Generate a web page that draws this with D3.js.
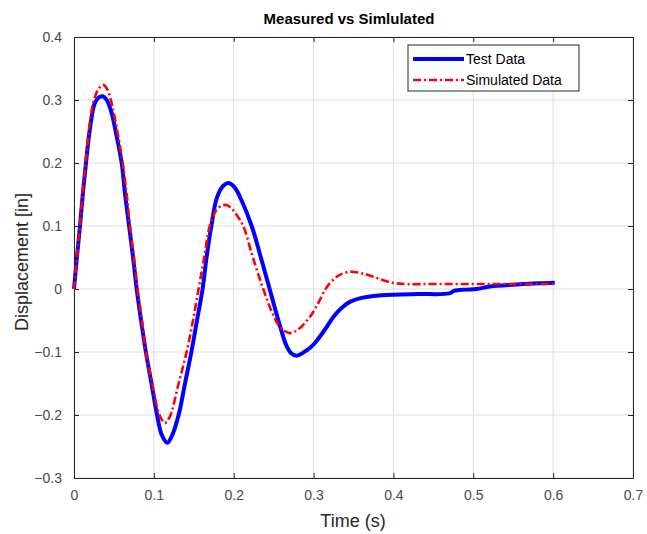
<!DOCTYPE html>
<html>
<head>
<meta charset="utf-8">
<script src="https://cdn.jsdelivr.net/npm/d3@7"></script>
<style>
  html, body { margin: 0; padding: 0; background: #fff; }
  svg { display: block; font-family: "Liberation Sans", Arial, Helvetica, sans-serif; }
</style>
</head>
<body>
<svg id="chart" width="647" height="534"></svg>
<script>
// Measured displacement response (test rig)
const testTime = [0, 0.004, 0.0075, 0.011, 0.015, 0.020, 0.026, 0.031, 0.036, 0.041, 0.047, 0.053, 0.0597, 0.064, 0.069, 0.074, 0.0785, 0.084, 0.090, 0.097, 0.104, 0.110, 0.117, 0.123, 0.131, 0.139, 0.147, 0.154, 0.161, 0.166, 0.172, 0.179, 0.187, 0.1945, 0.202, 0.210, 0.2225, 0.234, 0.245, 0.256, 0.266, 0.272, 0.279, 0.287, 0.296, 0.304, 0.315, 0.325, 0.335, 0.346, 0.360, 0.375, 0.400, 0.430, 0.470, 0.476, 0.490, 0.504, 0.521, 0.554, 0.580, 0.602];
const testDisp = [0, 0.055, 0.10, 0.15, 0.20, 0.255, 0.295, 0.304, 0.306, 0.300, 0.280, 0.245, 0.20, 0.15, 0.10, 0.05, 0.0, -0.05, -0.10, -0.15, -0.20, -0.232, -0.244, -0.232, -0.20, -0.15, -0.10, -0.05, 0.0, 0.05, 0.10, 0.145, 0.164, 0.168, 0.160, 0.140, 0.10, 0.05, 0.0, -0.05, -0.09, -0.102, -0.106, -0.101, -0.093, -0.082, -0.063, -0.044, -0.030, -0.020, -0.014, -0.011, -0.009, -0.008, -0.007, -0.003, -0.001, 0.0, 0.004, 0.007, 0.009, 0.010];

// Simulated displacement response (model)
const simTime = [0, 0.004, 0.0075, 0.011, 0.0146, 0.020, 0.025, 0.031, 0.0367, 0.042, 0.048, 0.055, 0.061, 0.066, 0.070, 0.075, 0.0795, 0.085, 0.090, 0.098, 0.107, 0.114, 0.118, 0.121, 0.131, 0.141, 0.149, 0.156, 0.163, 0.170, 0.178, 0.185, 0.191, 0.198, 0.205, 0.212, 0.224, 0.237, 0.249, 0.259, 0.2705, 0.280, 0.2955, 0.306, 0.316, 0.329, 0.340, 0.348, 0.360, 0.375, 0.396, 0.417, 0.450, 0.500, 0.550, 0.600];
const simDisp = [0, 0.055, 0.10, 0.155, 0.20, 0.265, 0.300, 0.318, 0.324, 0.316, 0.290, 0.245, 0.20, 0.15, 0.10, 0.05, 0.0, -0.05, -0.10, -0.15, -0.20, -0.213, -0.207, -0.20, -0.15, -0.10, -0.05, 0.0, 0.05, 0.10, 0.125, 0.132, 0.1333, 0.127, 0.115, 0.10, 0.05, 0.0, -0.04, -0.062, -0.070, -0.065, -0.044, -0.022, 0.002, 0.0195, 0.026, 0.0275, 0.025, 0.0195, 0.0106, 0.0078, 0.008, 0.008, 0.008, 0.008];

const xTicks = [0, 0.1, 0.2, 0.3, 0.4, 0.5, 0.6, 0.7];
const yTicks = [-0.3, -0.2, -0.1, 0, 0.1, 0.2, 0.3, 0.4];
const seriesNames = ["Test Data", "Simulated Data"];

const svg = d3.select("#chart");
const plotLeft = 74, plotRight = 633, plotTop = 37, plotBottom = 478;

const x = d3.scaleLinear().domain([0, 0.7]).range([plotLeft, plotRight]);
const y = d3.scaleLinear().domain([-0.3, 0.4]).range([plotBottom, plotTop]);

const axisColor = "#262626";
const labelColor = "#4a4a4a";
const fmt = d => (d === 0 ? "0" : d3.format(".1f")(d));

// grid
const grid = svg.append("g");
grid.selectAll("line.gx").data(xTicks).join("line").attr("class", "gx")
  .attr("x1", d => x(d)).attr("x2", d => x(d))
  .attr("y1", plotTop).attr("y2", plotBottom)
  .attr("stroke", "#dfdfdf").attr("stroke-width", 1);
grid.selectAll("line.gy").data(yTicks).join("line").attr("class", "gy")
  .attr("x1", plotLeft).attr("x2", plotRight)
  .attr("y1", d => y(d)).attr("y2", d => y(d))
  .attr("stroke", "#dfdfdf").attr("stroke-width", 1);

// axes with inward ticks
const xAxis = svg.append("g").attr("transform", `translate(0,${plotBottom})`)
  .call(d3.axisBottom(x).tickValues(xTicks).tickFormat(fmt).tickSizeInner(-5).tickSizeOuter(0).tickPadding(12));
const xAxisTop = svg.append("g").attr("transform", `translate(0,${plotTop})`)
  .call(d3.axisTop(x).tickValues(xTicks).tickFormat("").tickSizeInner(-5).tickSizeOuter(0));
const yAxis = svg.append("g").attr("transform", `translate(${plotLeft},0)`)
  .call(d3.axisLeft(y).tickValues(yTicks).tickFormat(fmt).tickSizeInner(-5).tickSizeOuter(0).tickPadding(12));
const yAxisRight = svg.append("g").attr("transform", `translate(${plotRight},0)`)
  .call(d3.axisRight(y).tickValues(yTicks).tickFormat("").tickSizeInner(-5).tickSizeOuter(0));

[xAxis, xAxisTop, yAxis, yAxisRight].forEach(g => {
  g.select(".domain").attr("stroke", axisColor).attr("stroke-width", 1);
  g.selectAll(".tick line").attr("stroke", axisColor);
  g.selectAll("text").attr("fill", labelColor).style("font-size", "14px")
    .style("font-family", "'Liberation Sans', Arial, sans-serif");
});

// data lines
const line = d3.line().x(d => x(d[0])).y(d => y(d[1])).curve(d3.curveCatmullRom.alpha(0.5));
const testPts = testTime.map((t, i) => [t, testDisp[i]]);
const simPts = simTime.map((t, i) => [t, simDisp[i]]);

svg.append("path").datum(testPts).attr("d", line)
  .attr("fill", "none").attr("stroke", "#0000ff").attr("stroke-width", 4)
  .attr("stroke-linejoin", "round");
svg.append("path").datum(simPts).attr("d", line)
  .attr("fill", "none").attr("stroke", "#ff0000").attr("stroke-width", 2.6)
  .attr("stroke-dasharray", "8,3,2,3");

// title and axis labels
svg.append("text").attr("x", 349).attr("y", 24).attr("text-anchor", "middle")
  .attr("font-weight", "bold").attr("font-size", 15).attr("fill", "#000")
  .text("Measured vs Simlulated");
svg.append("text").attr("x", 353).attr("y", 527).attr("text-anchor", "middle")
  .attr("font-size", 18).attr("fill", "#262626").text("Time (s)");
svg.append("text").attr("transform", `translate(28,262) rotate(-90)`)
  .attr("text-anchor", "middle").attr("font-size", 18).attr("fill", "#262626")
  .text("Displacement [in]");

// legend
const lg = svg.append("g");
lg.append("rect").attr("x", 408).attr("y", 45).attr("width", 171).attr("height", 46)
  .attr("fill", "#fff").attr("stroke", axisColor).attr("stroke-width", 1);
const legendStyles = [
  { color: "#0000ff", width: 4, dash: null },
  { color: "#ff0000", width: 2.6, dash: "8,3,2,3" }
];
seriesNames.forEach((name, i) => {
  const yy = 59 + i * 21;
  const s = legendStyles[i];
  lg.append("line").attr("x1", 413).attr("x2", 464).attr("y1", yy).attr("y2", yy)
    .attr("stroke", s.color).attr("stroke-width", s.width)
    .attr("stroke-dasharray", s.dash);
  lg.append("text").attr("x", 466).attr("y", yy).attr("dy", "0.36em")
    .attr("font-size", 14).attr("fill", "#000").text(name);
});
</script>
</body>
</html>
